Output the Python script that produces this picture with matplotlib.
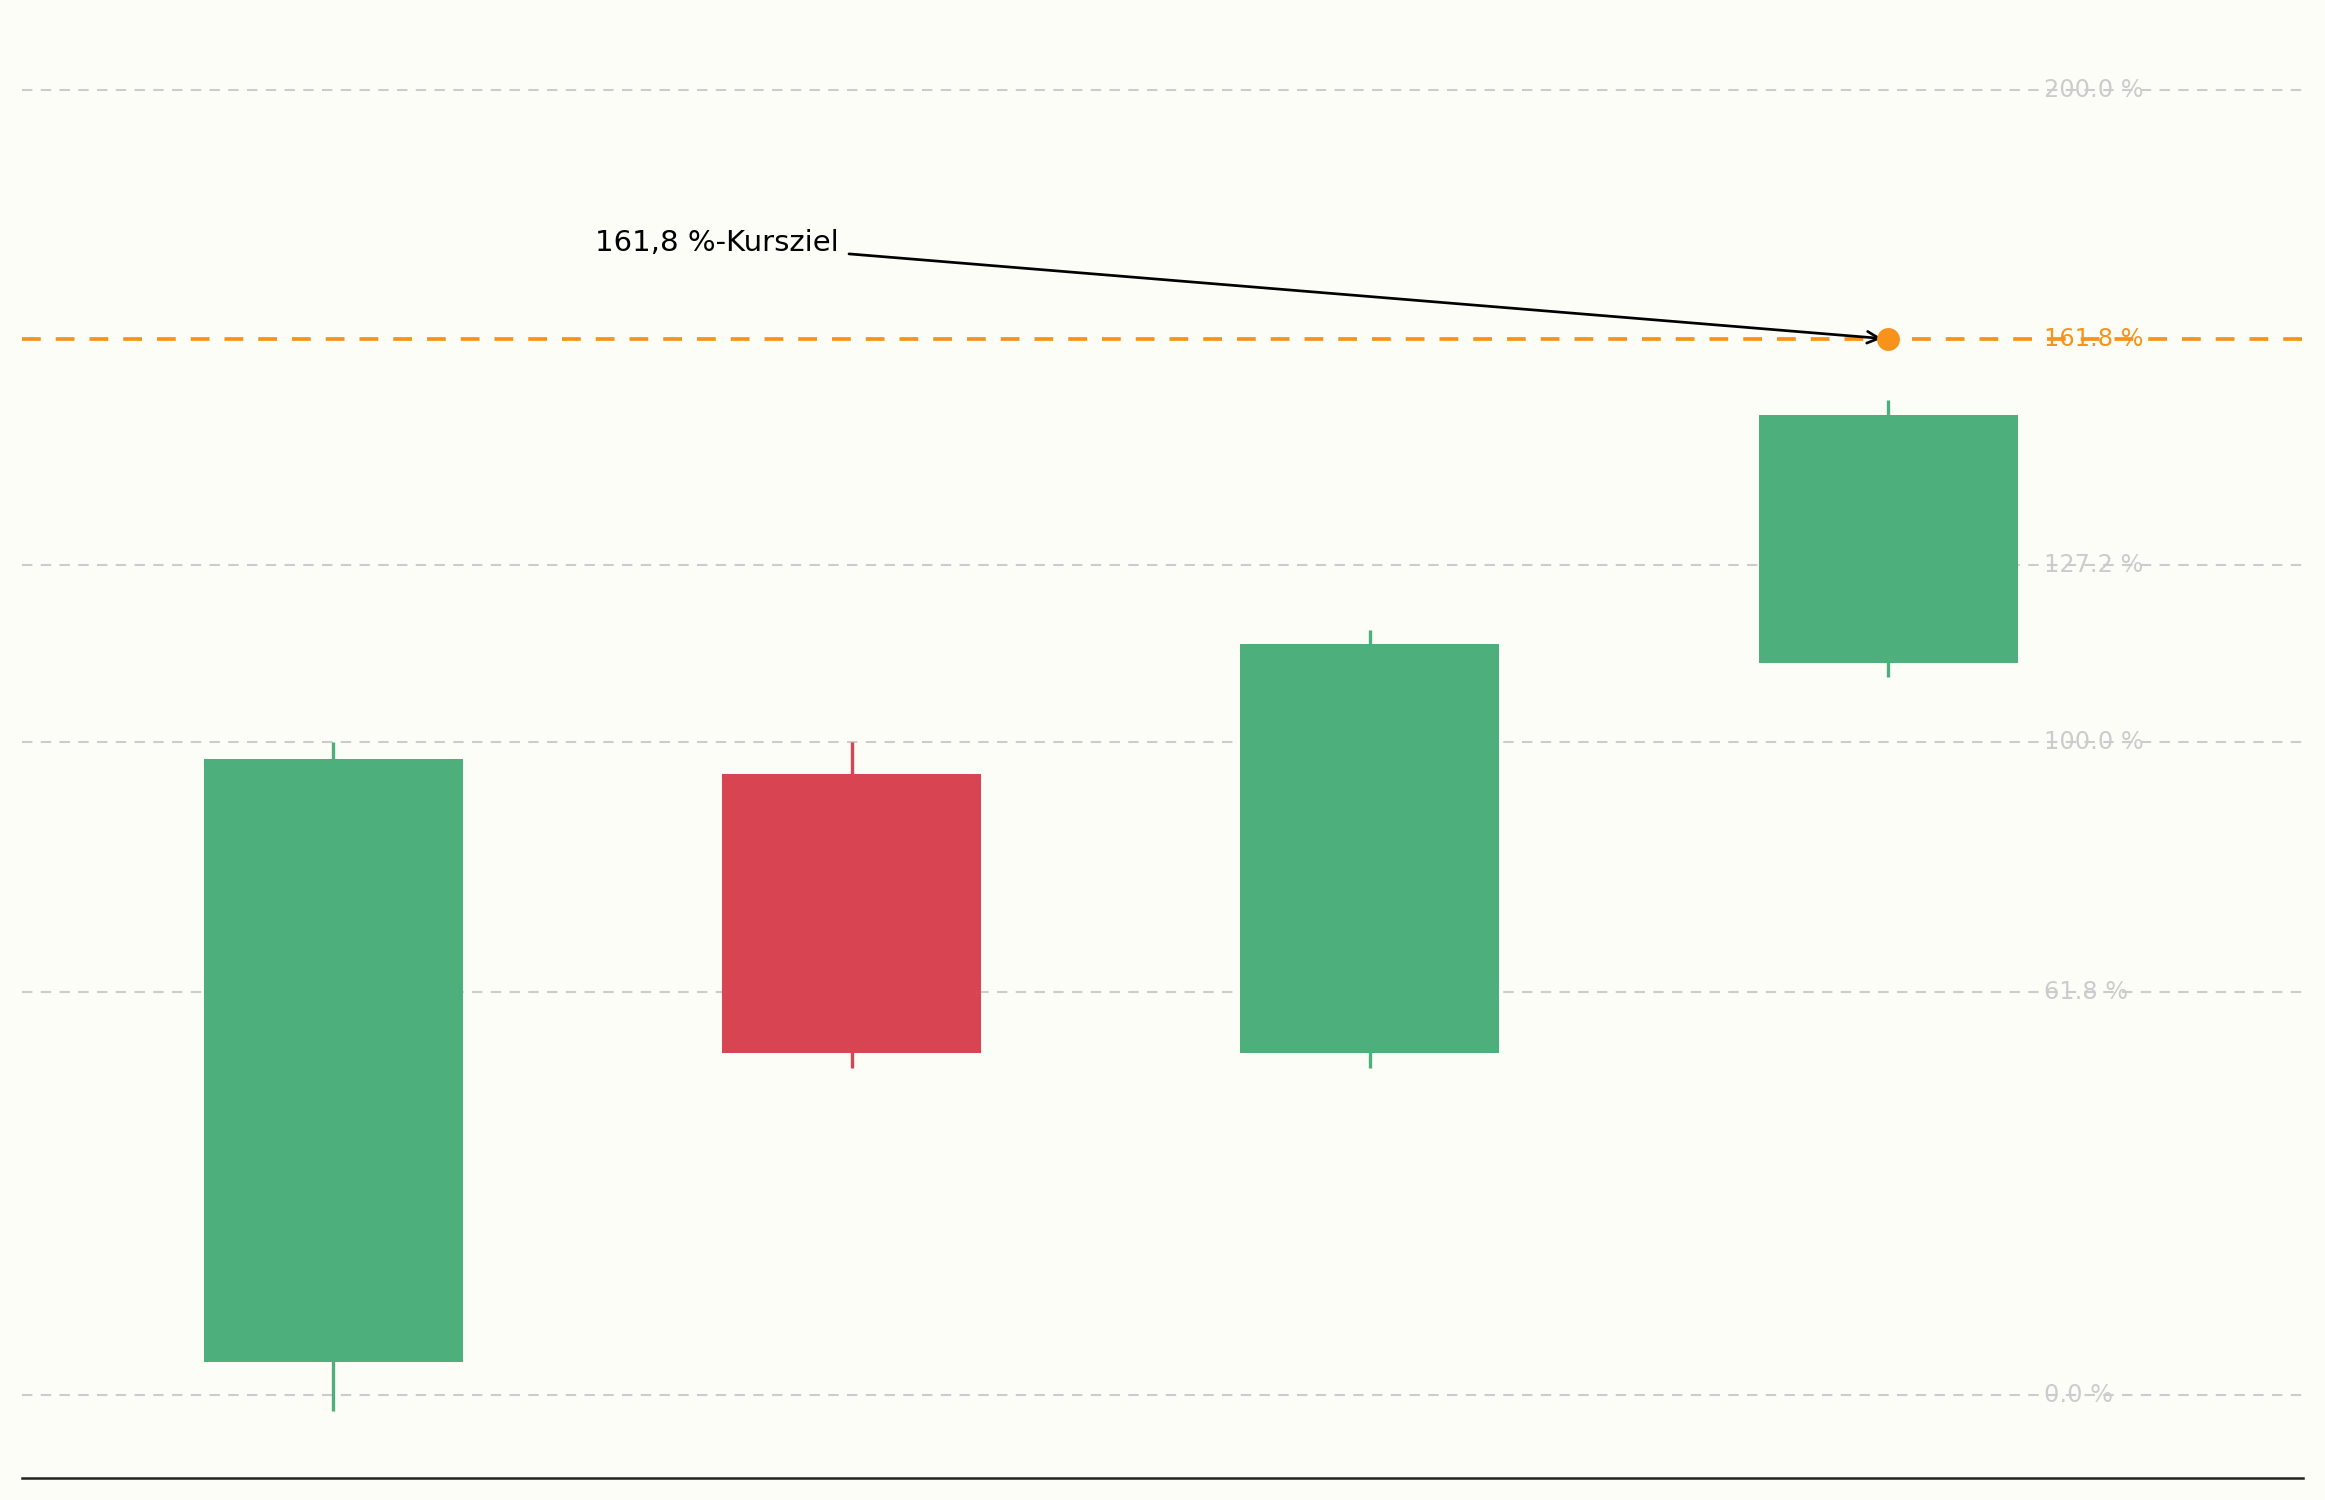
import matplotlib.pyplot as plt

# candle data in percent of the move
opens = [5.0, 95.2, 52.4, 112.2]
closes = [97.5, 52.4, 115.0, 150.1]
highs = [100.0, 100.0, 117.2, 152.4]
lows = [-2.5, 50.1, 50.1, 110.0]

levels = [0.0, 61.8, 100.0, 127.2, 200.0]
level_labels = ["0.0 %", "61.8 %", "100.0 %", "127.2 %", "200.0 %"]
target = 161.8
target_label = "161.8 %"
note = "161,8 %-Kursziel"

green = "#4daf7c"
red = "#d94452"
orange = "#f7931a"
grey = "#cccccc"
bg = "#fdfdf8"

fig = plt.figure(figsize=(15.5, 10), dpi=150, facecolor=bg)
ax = fig.add_axes([0.0096, 0.0148, 0.9808, 0.975])
ax.set_facecolor(bg)

for i in range(len(opens)):
    o, c, h, l = opens[i], closes[i], highs[i], lows[i]
    col = green if c >= o else red
    ax.vlines(i, l, h, color=col, lw=1.6, zorder=2)
    ax.bar(i, abs(c - o), bottom=min(o, c), width=0.5, color=col, zorder=3)

for lv, lab in zip(levels, level_labels):
    ax.axhline(lv, color=grey, lw=1, ls=(0, (5, 4)), zorder=1)
    ax.text(3.3, lv, lab, color=grey, fontsize=11.5, va="center", ha="left", zorder=1)

ax.axhline(target, color=orange, lw=1.8, ls=(0, (5, 4)), zorder=1)
ax.text(3.3, target, target_label, color=orange, fontsize=11.5, va="center", ha="left", zorder=1)
last = len(opens) - 1
ax.plot(last, target, "o", color=orange, ms=10, zorder=5)

ax.annotate(note, xy=(last, target), xytext=(0.975, 176.5),
            ha="right", va="center", fontsize=14, color="black",
            arrowprops=dict(arrowstyle="->", color="black", lw=1.3,
                            shrinkA=3, shrinkB=3))

ax.set_xlim(-0.6, 3.8)
ax.set_ylim(-12.7, 211.4)
for s in ["top", "left", "right"]:
    ax.spines[s].set_visible(False)
ax.spines["bottom"].set_color("#222222")
ax.spines["bottom"].set_linewidth(1.2)
ax.set_xticks([])
ax.set_yticks([])

fig.savefig("out.png", dpi=150, facecolor=bg)
